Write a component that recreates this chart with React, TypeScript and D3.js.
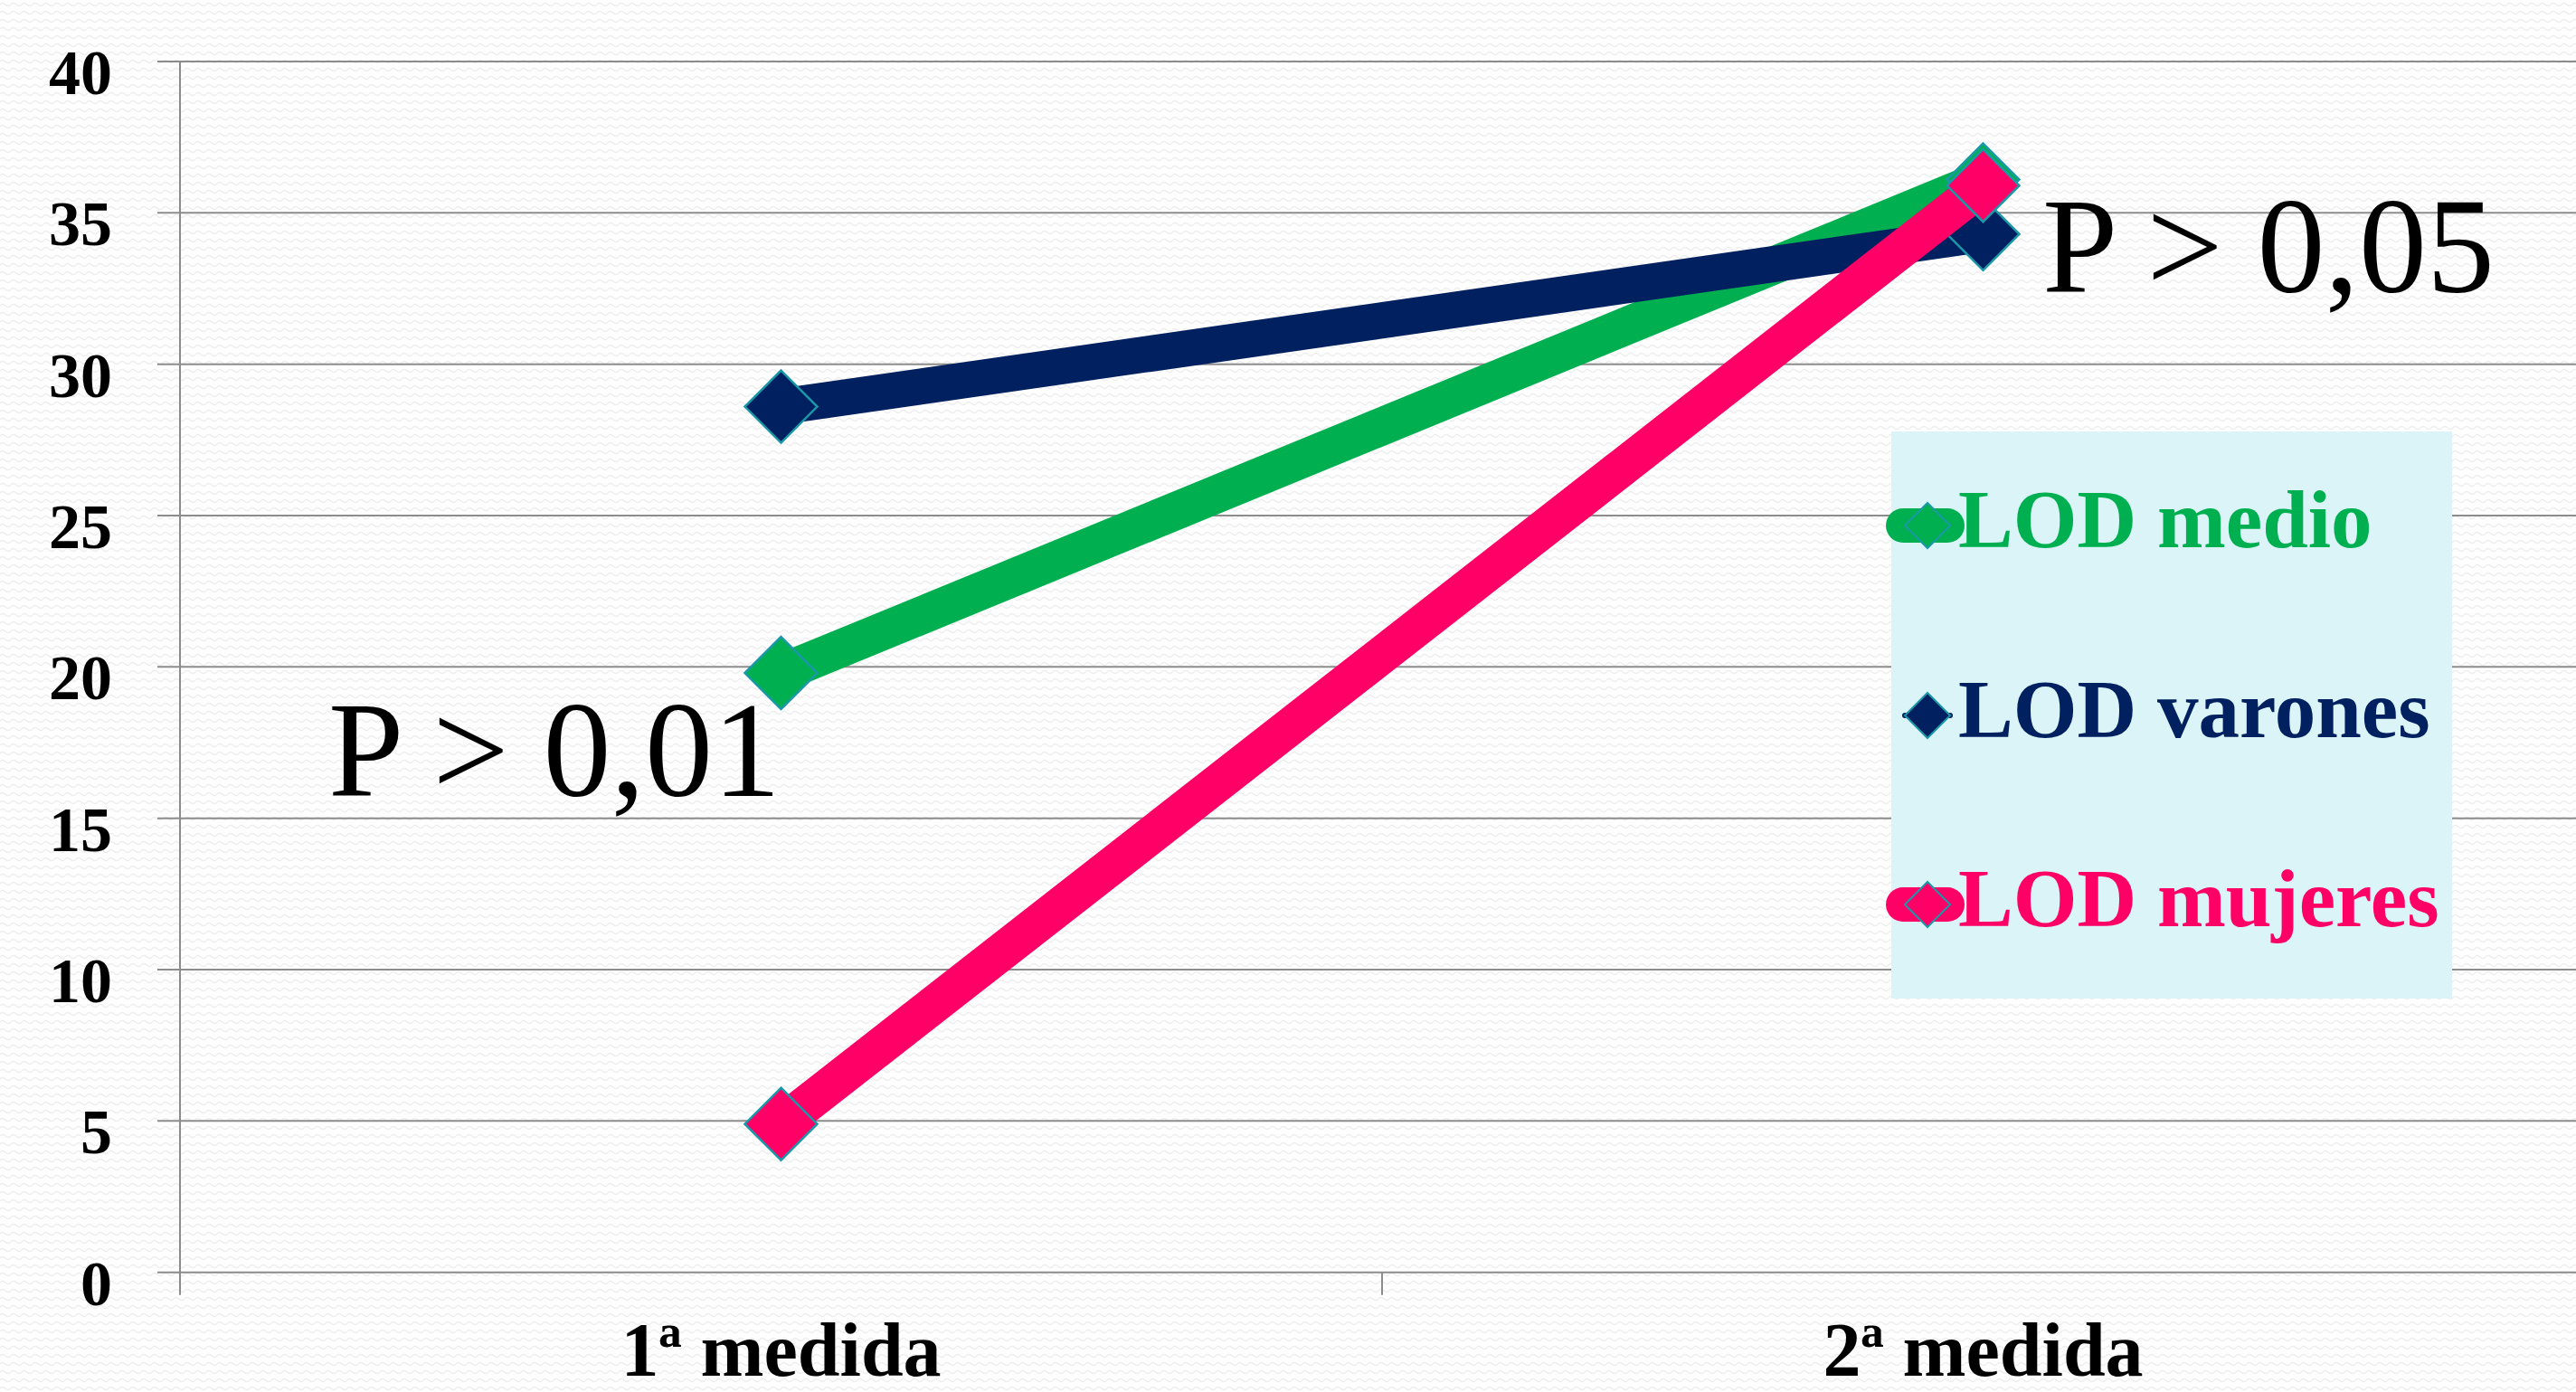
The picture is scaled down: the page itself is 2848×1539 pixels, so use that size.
import React from 'react';
import * as d3 from 'd3';

const categories = ['1ª medida', '2ª medida'];
const seriesNames = ['LOD medio', 'LOD varones', 'LOD mujeres'];
const lodMedio = [19.8, 36.1];
const lodVarones = [28.6, 34.3];
const lodMujeres = [4.9, 35.9];
const yTickValues = [0, 5, 10, 15, 20, 25, 30, 35, 40];
const annotationTexts = ['P > 0,01', 'P > 0,05'];

const W = 2848;
const H = 1539;
const seriesColors = ['#00B050', '#002060', '#FF0066'];
const markerStroke = '#1B98A8';
const gridColor = '#8C8C8C';

export default function App() {
  const plotLeft = 199;
  const plotRight = 2857;
  const x = d3.scaleBand<string>().domain(categories).range([plotLeft, plotRight]).padding(0);
  const y = d3.scaleLinear().domain([0, 40]).range([1406.7, 68]);
  const cx = (c: string) => (x(c) as number) + x.bandwidth() / 2;
  const allSeries = [lodMedio, lodVarones, lodMujeres];
  const lineGen = d3
    .line<number>()
    .x((_, i) => cx(categories[i]))
    .y((d) => y(d));
  const diamond = (px: number, py: number, r: number) =>
    `M${px},${py - r}L${px + r},${py}L${px},${py + r}L${px - r},${py}Z`;
  const lineWidths = [42, 40, 42];

  const legendLeft = 2091;
  const legendTop = 477;
  const legendRowY = [581, 791, 1000];

  return (
    <svg
      width={W}
      height={H}
      style={{ position: 'absolute', left: 0, top: 0, display: 'block' }}
      xmlns="http://www.w3.org/2000/svg"
    >
      <defs>
        <pattern id="wave" width="12" height="9" patternUnits="userSpaceOnUse">
          <rect width="12" height="9" fill="#FEFEFE" />
          <path d="M0,5 Q3,2 6,5 T12,5" fill="none" stroke="#EEEEEE" strokeWidth="1.3" />
        </pattern>
      </defs>
      <rect x={0} y={0} width={W} height={H} fill="url(#wave)" />

      {/* gridlines and y ticks */}
      {yTickValues.map((t) => (
        <line key={'g' + t} x1={174} x2={W} y1={y(t)} y2={y(t)} stroke={gridColor} strokeWidth={2} />
      ))}
      {/* y axis */}
      <line x1={plotLeft} x2={plotLeft} y1={y(40)} y2={y(0) + 25} stroke={gridColor} strokeWidth={2} />
      {/* category tick */}
      {categories.slice(1).map((c) => (
        <line key={'ct' + c} x1={x(c) as number} x2={x(c) as number} y1={y(0)} y2={y(0) + 25} stroke={gridColor} strokeWidth={2} />
      ))}

      {/* y labels */}
      {yTickValues.map((t) => (
        <text
          key={'yl' + t}
          x={124}
          y={y(t) + 36}
          textAnchor="end"
          fontFamily="'Liberation Serif', 'DejaVu Serif', serif"
          fontWeight="bold"
          fontSize={70}
          fill="#000"
        >
          {t}
        </text>
      ))}

      {/* x labels */}
      {categories.map((c) => (
        <text
          key={'xl' + c}
          x={cx(c)}
          y={1521}
          textAnchor="middle"
          fontFamily="'Liberation Serif', 'DejaVu Serif', serif"
          fontWeight="bold"
          fontSize={84}
          fill="#000"
        >
          {c}
        </text>
      ))}

      {/* series */}
      {allSeries.map((vals, si) => (
        <g key={'s' + si}>
          <path d={lineGen(vals) as string} fill="none" stroke={seriesColors[si]} strokeWidth={lineWidths[si]} />
          {vals.map((v, i) => (
            <path
              key={'m' + i}
              d={diamond(cx(categories[i]), y(v), 40)}
              fill={seriesColors[si]}
              stroke={markerStroke}
              strokeWidth={2.5}
            />
          ))}
        </g>
      ))}

      {/* annotations */}
      <text x={363} y={880} fontFamily="'Liberation Serif', 'DejaVu Serif', serif" fontSize={150} fill="#000">
        {annotationTexts[0]}
      </text>
      <text x={2258} y={323} fontFamily="'Liberation Serif', 'DejaVu Serif', serif" fontSize={150} fill="#000">
        {annotationTexts[1]}
      </text>

      {/* legend */}
      <rect x={legendLeft} y={legendTop} width={620} height={627} fill="#DAF4F8" />
      {seriesNames.map((name, si) => {
        const ry = legendRowY[si];
        const thin = si === 1;
        return (
          <g key={'lg' + si}>
            <line
              x1={thin ? 2106 : 2104}
              x2={thin ? 2156 : 2153}
              y1={ry}
              y2={ry}
              stroke={seriesColors[si]}
              strokeWidth={thin ? 6 : 38}
              strokeLinecap="round"
            />
            <path d={diamond(2131, ry, 25)} fill={seriesColors[si]} stroke={markerStroke} strokeWidth={2} />
            <text
              x={2165}
              y={ry + 24}
              fontFamily="'Liberation Serif', 'DejaVu Serif', serif"
              fontWeight="bold"
              fontSize={91}
              fill={seriesColors[si]}
            >
              {name}
            </text>
          </g>
        );
      })}
    </svg>
  );
}
